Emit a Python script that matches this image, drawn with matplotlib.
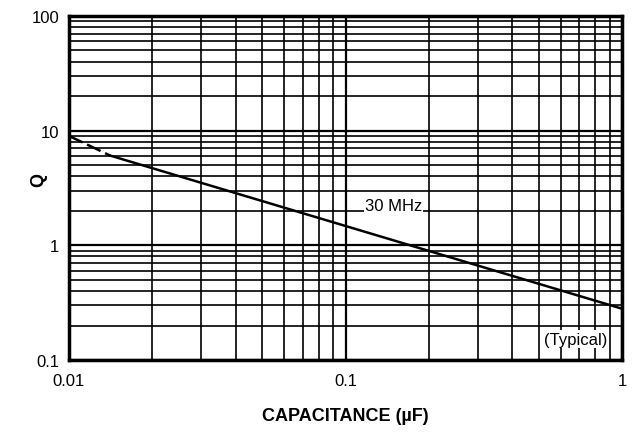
import matplotlib
matplotlib.use('Agg')
import matplotlib.pyplot as plt
from matplotlib.ticker import LogLocator, FixedLocator, NullFormatter, FixedFormatter

plt.rcParams['font.family'] = ['Liberation Sans', 'DejaVu Sans']

# Curve data (30 MHz, typical)
cap_uF = [0.0141, 1.0]
q_vals = [6.06, 0.28]
cap_dash = [0.01, 0.0141]
q_dash = [9.0, 6.06]

x_ticks = [0.01, 0.1, 1]
x_labels = ['0.01', '0.1', '1']
y_ticks = [0.1, 1, 10, 100]
y_labels = ['0.1', '1', '10', '100']

fig = plt.figure(figsize=(6.33, 4.35), dpi=100)
ax = fig.add_axes([0.109, 0.170, 0.874, 0.791])

ax.set_xscale('log')
ax.set_yscale('log')
ax.set_xlim(0.01, 1)
ax.set_ylim(0.1, 100)

# Grid lines
ax.xaxis.set_minor_locator(LogLocator(base=10, subs=range(2, 10)))
ax.yaxis.set_minor_locator(LogLocator(base=10, subs=range(2, 10)))
ax.xaxis.set_minor_formatter(NullFormatter())
ax.yaxis.set_minor_formatter(NullFormatter())
ax.grid(True, which='major', color='black', linewidth=1.6)
ax.grid(True, which='minor', color='black', linewidth=1.2)
ax.set_axisbelow(True)

ax.xaxis.set_major_locator(FixedLocator(x_ticks))
ax.xaxis.set_major_formatter(FixedFormatter(x_labels))
ax.yaxis.set_major_locator(FixedLocator(y_ticks))
ax.yaxis.set_major_formatter(FixedFormatter(y_labels))
ax.tick_params(which='both', length=0, labelsize=12)
ax.tick_params(axis='x', pad=9)
ax.tick_params(axis='y', pad=7)

for s in ax.spines.values():
    s.set_linewidth(2.5)
    s.set_color('black')

ax.plot(cap_uF, q_vals, color='black', linewidth=1.8, zorder=3)
ax.plot(cap_dash, q_dash, color='black', linewidth=1.8, linestyle=(0, (6, 2)), zorder=3)

ax.text(0.149, 2.22, '30 MHz', fontsize=12, ha='center', va='center', zorder=4,
        bbox=dict(facecolor='white', edgecolor='none', pad=1))
ax.text(0.68, 0.152, '(Typical)', fontsize=12, ha='center', va='center', zorder=4,
        bbox=dict(facecolor='white', edgecolor='none', pad=1))

ax.set_xlabel('CAPACITANCE (µF)', fontsize=13, fontweight='bold', labelpad=14)
ax.set_ylabel('Q', fontsize=13, fontweight='bold')
ax.yaxis.set_label_coords(-0.040, 0.526)

fig.savefig('out.png', dpi=100)
